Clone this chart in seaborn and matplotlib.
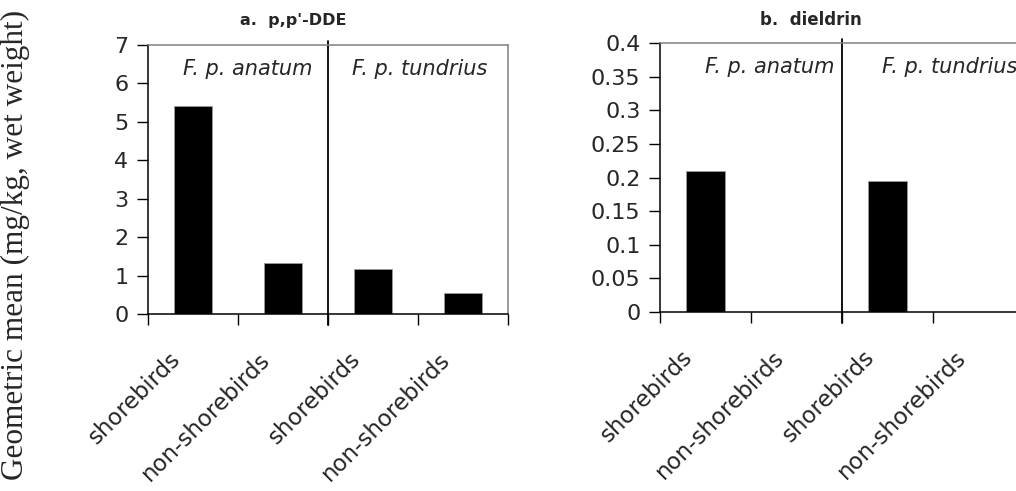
import matplotlib
matplotlib.use("Agg")
import matplotlib.pyplot as plt
import matplotlib.transforms as mtransforms
from matplotlib.ticker import FixedLocator
import pandas as pd
import seaborn as sns

# Geometric mean residues in prey, by peregrine subspecies and prey group
subspecies = ["F. p. anatum", "F. p. anatum", "F. p. tundrius", "F. p. tundrius"]
prey_groups = ["shorebirds", "non-shorebirds", "shorebirds", "non-shorebirds"]
dde_values = [5.4, 1.32, 1.17, 0.54]
dieldrin_values = [0.21, 0.0, 0.195, 0.0]

dde_ticks = [0, 1, 2, 3, 4, 5, 6, 7]
dde_tick_labels = ["0", "1", "2", "3", "4", "5", "6", "7"]
dieldrin_ticks = [0, 0.05, 0.1, 0.15, 0.2, 0.25, 0.3, 0.35, 0.4]
dieldrin_tick_labels = ["0", "0.05", "0.1", "0.15", "0.2", "0.25", "0.3", "0.35", "0.4"]

panel_titles = ["a.  p,p'-DDE", "b.  dieldrin"]
group_labels = ["F. p. anatum", "F. p. tundrius"]
y_label = "Geometric mean (mg/kg, wet weight)"

sns.set_theme(style="white")
plt.rcParams["font.family"] = ["DejaVu Sans"]

keys = [f"{s} | {p}" for s, p in zip(subspecies, prey_groups)]
df = pd.DataFrame({
    "key": keys,
    "subspecies": subspecies,
    "prey": prey_groups,
    "dde": dde_values,
    "dieldrin": dieldrin_values,
})

W, H = 1016, 491
fig = plt.figure(figsize=(W / 100, H / 100), dpi=100)
ax_a = fig.add_axes([148 / W, 1 - 314 / H, 360 / W, 269 / H])
ax_b = fig.add_axes([660 / W, 1 - 312 / H, 364 / W, 269 / H])

panels = [
    (ax_a, "dde", dde_ticks, dde_tick_labels, (0, 7), [0.61, 2.52]),
    (ax_b, "dieldrin", dieldrin_ticks, dieldrin_tick_labels, (0, 0.4), [0.71, 2.68]),
]

for ax, col, yt, ytl, ylim, label_x in panels:
    sns.barplot(data=df, x="key", y=col, order=keys, color="black",
                width=0.43, edgecolor="#9a9a9a", linewidth=0.6,
                saturation=1, ax=ax)
    ax.set_xlim(-0.5, 3.5)
    ax.set_ylim(*ylim)
    ax.set_xlabel("")
    ax.set_ylabel("")

    ax.set_yticks(yt)
    ax.set_yticklabels(ytl, fontsize=16)
    ax.tick_params(axis="y", direction="out", length=8, width=1,
                   color="black", pad=6, left=True)

    ax.set_xticks(range(len(keys)))
    ax.set_xticklabels(prey_groups, fontsize=16.5, rotation=45,
                       ha="right", va="center", rotation_mode="anchor")
    ax.tick_params(axis="x", which="major", length=0, pad=30, bottom=True)
    ax.xaxis.set_minor_locator(FixedLocator([-0.5, 0.5, 1.5, 2.5, 3.5]))
    ax.tick_params(axis="x", which="minor", direction="out", length=8,
                   width=1, color="black", bottom=True)
    shift = mtransforms.ScaledTranslation(-16 / 100, 0, fig.dpi_scale_trans)
    for lbl in ax.get_xticklabels():
        lbl.set_transform(lbl.get_transform() + shift)

    for side in ("left", "bottom"):
        ax.spines[side].set_color("black")
        ax.spines[side].set_linewidth(1.1)
    for side in ("top", "right"):
        ax.spines[side].set_color("#808080")
        ax.spines[side].set_linewidth(1.1)
        ax.spines[side].set_visible(True)

    # vertical divider between the two subspecies
    ax.axvline(1.5, ymin=-0.04, ymax=1.015, color="black", lw=1.3,
               clip_on=False)

    for gx, gl in zip(label_x, group_labels):
        ax.text(gx, 0.912, gl, transform=ax.get_xaxis_transform(),
                ha="center", va="center", fontsize=15, style="italic")

fig.text(293 / W, 1 - 20 / H, panel_titles[0], ha="center", va="center",
         fontsize=11.5, fontweight="bold")
fig.text(811 / W, 1 - 20 / H, panel_titles[1], ha="center", va="center",
         fontsize=12, fontweight="bold")
fig.text(15 / W, 1 - 245 / H, y_label, rotation=90, ha="center",
         va="center", fontsize=22.5, family=["Liberation Serif"])

fig.savefig("out.png", dpi=100, facecolor="white")
